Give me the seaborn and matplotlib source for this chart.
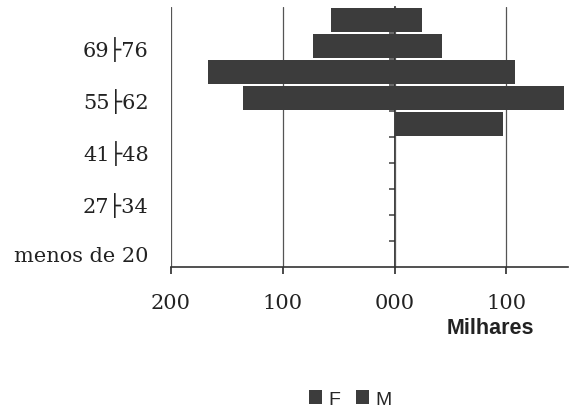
import pandas as pd
import numpy as np
import matplotlib.pyplot as plt
import seaborn as sns
from matplotlib.ticker import FuncFormatter

# faixas etarias (de baixo para cima) e valores em milhares
faixas = ['menos de 20', '20├27', '27├34', '34├41', '41├48',
          '48├55', '55├62', '62├69', '69├76', '76├83']
mulheres = [0, 0, 0, 0, 0, 0, 136, 167, 73, 57]
homens = [0, 0, 0, 0, 0, 97, 151, 108, 42, 24]
ticks_x = [-200, -100, 0, 100]

sns.set_theme(style='white')
plt.rcParams['font.family'] = ['DejaVu Serif', 'DejaVu Sans']

df = pd.DataFrame({
    'faixa': faixas * 2,
    'sexo': ['F'] * len(faixas) + ['M'] * len(faixas),
    'valor': [-v for v in mulheres] + homens,
})

fig = plt.figure(figsize=(5.73, 4.10), dpi=100)
ax = fig.add_axes([171 / 573, 142 / 410, 397 / 573, 260 / 410])

ordem = faixas[::-1]
sns.barplot(data=df, x='valor', y='faixa', hue='sexo', order=ordem,
            hue_order=['F', 'M'], palette=['#3c3c3c', '#3c3c3c'],
            dodge=False, width=0.92, orient='h', linewidth=0,
            edgecolor='none', ax=ax, zorder=3)

ax.set_xlim(-200, 155)
ax.set_ylim(9.5, -0.5)
ax.set_xticks(ticks_x)
ax.xaxis.set_major_formatter(FuncFormatter(lambda v, p: f'{abs(v):03.0f}'))
ax.grid(axis='x', color='#555555', linewidth=0.9)
ax.set_axisbelow(True)
for s in ['top', 'right', 'left']:
    ax.spines[s].set_visible(False)
ax.spines['bottom'].set_color('#333333')
ax.spines['bottom'].set_linewidth(1.2)

ax.tick_params(axis='x', bottom=True, length=5, color='#333333',
               direction='out', pad=14, labelsize=15, labelcolor='#222222')
ax.set_yticks(range(len(ordem)))
ax.set_yticklabels([f if faixas.index(f) % 2 == 0 else '' for f in ordem])
ax.tick_params(axis='y', length=0, pad=16, labelsize=15, labelcolor='#222222')
ax.set_xlabel('')
ax.set_ylabel('')

# eixo vertical no zero com marcas entre as faixas
sec = ax.secondary_yaxis((0 - ax.get_xlim()[0]) / (ax.get_xlim()[1] - ax.get_xlim()[0]))
sec.set_yticks([k + 0.5 for k in range(len(ordem) - 1)])
sec.set_yticklabels([])
sec.tick_params(length=4, direction='in', color='#555555')
sec.spines['left'].set_color('#555555')
sec.spines['left'].set_linewidth(0.9)

fig.text(490 / 573, 1 - 329 / 410, 'Milhares', family='Liberation Sans',
         weight='bold', fontsize=15.5, ha='center', va='center', color='#222222')

sns.move_legend(ax, 'center', bbox_to_anchor=(350 / 573, 1 - 400 / 410),
                bbox_transform=fig.transFigure, ncol=2, frameon=False,
                title=None, handlelength=0.7, handleheight=0.7,
                handletextpad=0.3, columnspacing=0.8,
                prop={'family': 'Liberation Sans', 'size': 14})

fig.savefig('out.png', dpi=100)
